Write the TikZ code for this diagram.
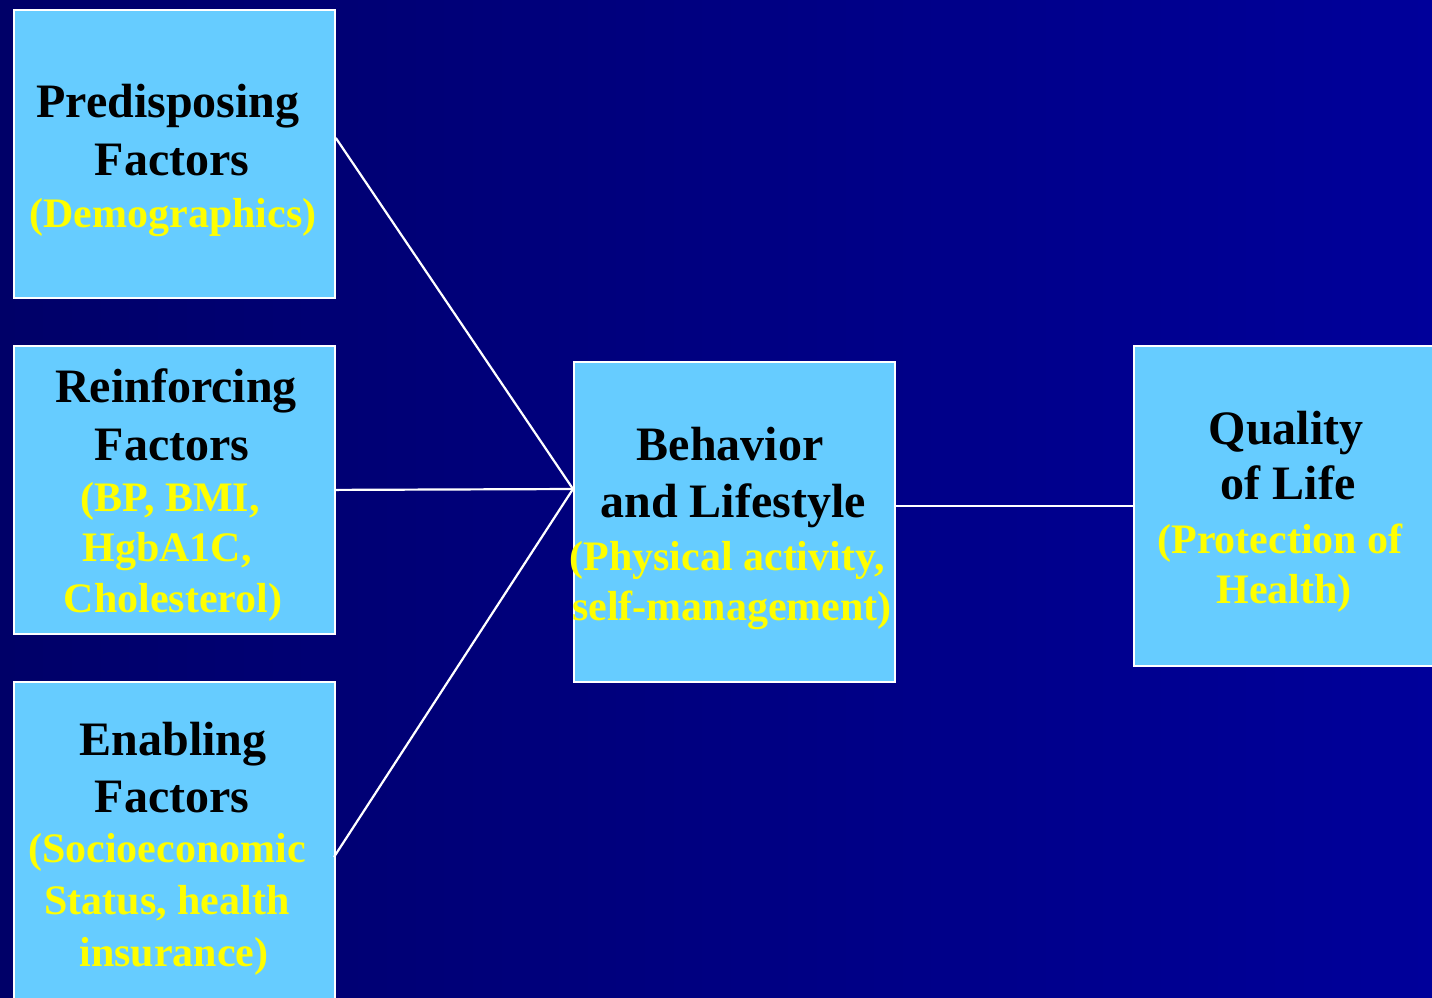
\documentclass[tikz,border=0pt]{standalone}
\usepackage{fontspec}
\setmainfont{Liberation Serif}
\definecolor{bgL}{HTML}{000068}
\definecolor{bgR}{HTML}{00009A}
\definecolor{boxfill}{HTML}{66CCFF}
\definecolor{ylw}{HTML}{FFFF00}
\tikzset{
  factorbox/.style={draw=white, line width=1.8pt, fill=boxfill, rectangle, inner sep=0pt, anchor=north west},
  titletxt/.style={anchor=base, inner sep=0pt, font=\fontsize{48}{56}\selectfont\bfseries, text=black},
  subtxt/.style={anchor=base, inner sep=0pt, font=\fontsize{42}{50}\selectfont\bfseries, text=ylw},
  conn/.style={draw=white, line width=2.2pt}
}
\begin{document}
\begin{tikzpicture}[x=1pt,y=-1pt]
\useasboundingbox (0,0) rectangle (1432,997);
\clip (0,0) rectangle (1432,997);
\shade[left color=bgL, right color=bgR] (0,0) rectangle (1432,997);

% boxes
\node[factorbox, minimum width=321pt, minimum height=288pt] (pre) at (13,9) {};
\node[factorbox, minimum width=321pt, minimum height=288pt] (rei) at (13,345) {};
\node[factorbox, minimum width=321pt, minimum height=340pt] (ena) at (13,681) {};
\node[factorbox, minimum width=321pt, minimum height=320pt] (beh) at (573,361) {};
\node[factorbox, minimum width=321pt, minimum height=320pt] (qol) at (1133,345) {};

% connectors
\coordinate (hub) at (573,489);
\coordinate (enaout) at (334,857);
\draw[conn] ([yshift=16pt]pre.east) -- (hub);
\draw[conn] (rei.east) -- (hub);
\draw[conn] (enaout) -- (hub);
\draw[conn] ([yshift=16pt]beh.east) -- (qol.west);

% Predisposing
\node[titletxt] (p1) at (168,117) {Predisposing};
\node[titletxt] (p2) at (172,175) {Factors};
\node[subtxt]   (p3) at (173,227) {(Demographics)};
% Reinforcing
\node[titletxt] (r1) at (176,402) {Reinforcing};
\node[titletxt] (r2) at (172,460) {Factors};
\node[subtxt]   (r3) at (170,511) {(BP, BMI,};
\node[subtxt]   (r4) at (167,561) {HgbA1C,};
\node[subtxt]   (r5) at (173,612) {Cholesterol)};
% Enabling
\node[titletxt] (e1) at (173,755) {Enabling};
\node[titletxt] (e2) at (172,812) {Factors};
\node[subtxt]   (e3) at (167,862) {(Socioeconomic};
\node[subtxt]   (e4) at (167,914) {Status, health};
\node[subtxt]   (e5) at (174,966) {insurance)};
% Behavior
\node[titletxt] (b1) at (730,460) {Behavior};
\node[titletxt] (b2) at (733,517) {and Lifestyle};
\node[subtxt]   (b3) at (727,570) {(Physical activity,};
\node[subtxt]   (b4) at (732,620) {self-management)};
% Quality
\node[titletxt] (q1) at (1286,444) {Quality};
\node[titletxt] (q2) at (1288,499) {of Life};
\node[subtxt]   (q3) at (1280,553) {(Protection of};
\node[subtxt]   (q4) at (1284,603) {Health)};
\end{tikzpicture}
\end{document}
